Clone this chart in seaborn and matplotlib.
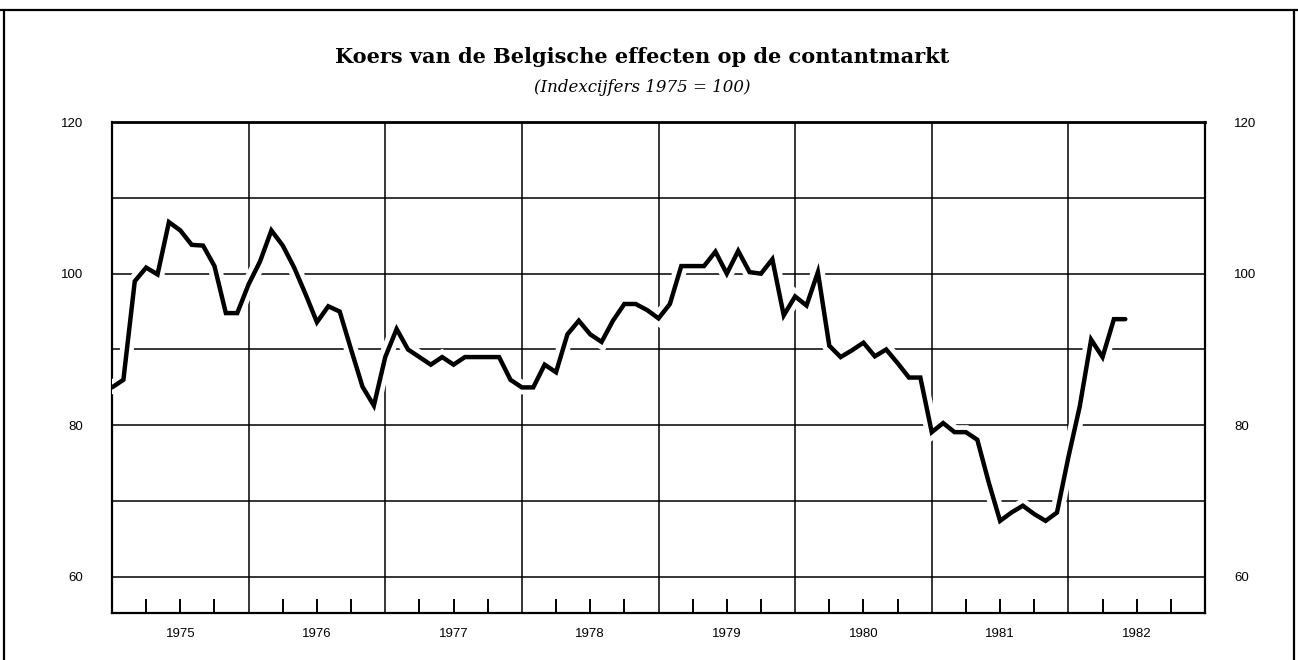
import numpy as np
import pandas as pd
import matplotlib
matplotlib.use("Agg")
import matplotlib.pyplot as plt
import matplotlib.patheffects as pe
import matplotlib.transforms as mtransforms
from matplotlib.lines import Line2D
import seaborn as sns

# Monthly index of Belgian share prices on the spot market (1975 = 100)
years = [1975, 1976, 1977, 1978, 1979, 1980, 1981, 1982]
idx_1975 = [85.0, 86.0, 99.0, 100.8, 99.9, 106.8, 105.7, 103.8, 103.7, 101.0, 94.8, 94.8]
idx_1976 = [98.6, 101.6, 105.7, 103.7, 100.8, 97.3, 93.6, 95.7, 95.0, 90.0, 85.1, 82.6]
idx_1977 = [89.0, 92.7, 90.0, 89.0, 88.0, 89.0, 88.0, 89.0, 89.0, 89.0, 89.0, 86.0]
idx_1978 = [85.0, 85.0, 88.0, 87.0, 92.0, 93.8, 92.0, 91.0, 93.8, 96.0, 96.0, 95.2]
idx_1979 = [94.1, 96.0, 101.0, 101.0, 101.0, 102.9, 100.0, 103.0, 100.2, 100.0, 101.9, 94.5]
idx_1980 = [97.0, 95.8, 100.2, 90.5, 89.0, 89.9, 90.9, 89.1, 90.0, 88.2, 86.3, 86.3]
idx_1981 = [79.1, 80.3, 79.1, 79.1, 78.1, 72.5, 67.4, 68.5, 69.4, 68.3, 67.4, 68.5]
idx_1982 = [75.8, 82.5, 91.3, 89.0, 94.0, 94.0]

series = [idx_1975, idx_1976, idx_1977, idx_1978, idx_1979, idx_1980, idx_1981, idx_1982]
rows = []
for yr, vals in zip(years, series):
    for m, v in enumerate(vals):
        rows.append({"t": yr + m / 12.0, "index": v})
df = pd.DataFrame(rows)

y_labels = [60, 80, 100, 120]
h_grid = [60, 70, 80, 90, 100, 110]

sns.set_style("white")
plt.rcParams["font.family"] = ["Liberation Sans", "DejaVu Sans"]
plt.rcParams["text.color"] = "black"
plt.rcParams["xtick.color"] = "black"
plt.rcParams["ytick.color"] = "black"
plt.rcParams["xtick.labelcolor"] = "black"
plt.rcParams["ytick.labelcolor"] = "black"

fig = plt.figure(figsize=(12.98, 6.60), dpi=100)
ax = fig.add_axes([112 / 1298, 1 - 613 / 660, (1205 - 112) / 1298, (613 - 122) / 660])

# grid: horizontal every 10 points, vertical at year boundaries
for h in h_grid:
    ax.axhline(h, color="black", lw=1.1, zorder=1)
for yr in years[1:]:
    ax.axvline(yr, color="black", lw=1.1, zorder=1)

sns.lineplot(data=df, x="t", y="index", ax=ax, color="black", lw=3.2,
             zorder=3, solid_joinstyle="miter",
             path_effects=[pe.Stroke(linewidth=10, foreground="white"), pe.Normal()])

ax.set_xlim(years[0], years[-1] + 1)
ax.set_ylim(55.25, 120)

# quarter ticks inside along the bottom
quarters = [y + q for y in years for q in (0.25, 0.5, 0.75)]
ax.set_xticks(quarters)
ax.set_xticklabels([])
ax.tick_params(axis="x", which="major", direction="in", length=10, width=1.4,
               bottom=True, top=False, color="black")

# year names centred under each year
trans = mtransforms.blended_transform_factory(ax.transData, ax.transAxes)
for yr in years:
    ax.text(yr + 0.5, -0.042, str(yr), transform=trans, ha="center", va="center",
            fontsize=9.5, color="black")

ax.set_yticks(y_labels)
ax.set_yticklabels([str(v) for v in y_labels])
ax.tick_params(axis="y", length=0, labelsize=9.5, pad=21,
               labelleft=True, labelright=True, labelcolor="black")

ax.set_xlabel("")
ax.set_ylabel("")
for side, spine in ax.spines.items():
    spine.set_visible(True)
    spine.set_color("black")
    spine.set_linewidth(1.6)
ax.spines["top"].set_linewidth(2.0)

fig.text(0.495, 1 - 57 / 660, "Koers van de Belgische effecten op de contantmarkt",
         ha="center", va="center", fontsize=15, fontweight="bold",
         family=["DejaVu Serif"], color="black")
fig.text(0.495, 1 - 87 / 660, "(Indexcijfers 1975 = 100)",
         ha="center", va="center", fontsize=12, style="italic",
         family=["DejaVu Serif"], color="black")

# page frame
frame_kw = dict(color="black", lw=1.6, transform=fig.transFigure)
fig.add_artist(Line2D([0, 1], [1 - 10 / 660, 1 - 10 / 660], **frame_kw))
fig.add_artist(Line2D([4 / 1298, 4 / 1298], [0, 1 - 10 / 660], **frame_kw))
fig.add_artist(Line2D([1294 / 1298, 1294 / 1298], [0, 1 - 10 / 660], **frame_kw))

fig.savefig("out.png", dpi=100)
